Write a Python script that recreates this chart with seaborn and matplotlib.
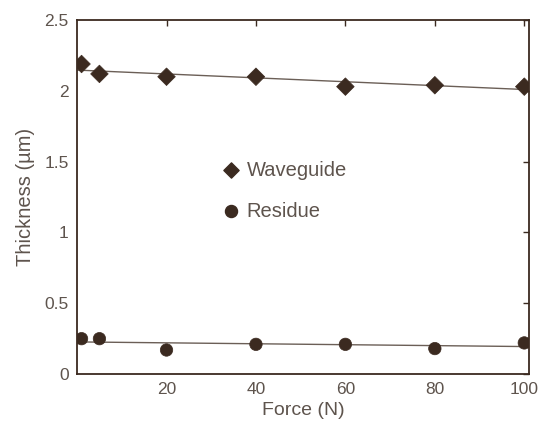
import numpy as np
import pandas as pd
import seaborn as sns
import matplotlib.pyplot as plt

# values
force = [1, 5, 20, 40, 60, 80, 100]
waveguide = [2.19, 2.12, 2.10, 2.10, 2.03, 2.04, 2.03]
residue = [0.25, 0.25, 0.17, 0.21, 0.21, 0.18, 0.22]
series_names = ['Waveguide', 'Residue']
x_ticks = [20, 40, 60, 80, 100]
y_ticks = [0, 0.5, 1, 1.5, 2, 2.5]

sns.set_style('white')
plt.rcParams['font.family'] = ['Liberation Sans', 'DejaVu Sans']
plt.rcParams['font.size'] = 12.5

dark = '#3b2a20'
txt = '#5e544d'
line_c = '#6b5f57'

df = pd.DataFrame({
    'Force': force * 2,
    'Thickness': waveguide + residue,
    'Layer': [series_names[0]] * len(force) + [series_names[1]] * len(force),
})

fig = plt.figure(figsize=(5.39, 4.28), dpi=100)
ax = fig.add_axes([0.143, 0.126, 0.838, 0.827])
ax.set_xlim(0, 101)
ax.set_ylim(0, 2.5)

for name in series_names:
    sub = df[df['Layer'] == name]
    sns.regplot(data=sub, x='Force', y='Thickness', ax=ax, scatter=False, ci=None,
                truncate=False, line_kws={'color': line_c, 'lw': 1.0})

sns.scatterplot(data=df, x='Force', y='Thickness', style='Layer', markers={'Waveguide': 'D', 'Residue': 'o'},
                color=dark, s=80, edgecolor=dark, linewidth=0.5, ax=ax, legend=False, zorder=3)

ax.set_xlim(0, 101)
ax.set_ylim(0, 2.5)
ax.set_xticks(x_ticks)
ax.set_yticks(y_ticks)
ax.set_yticklabels(['0', '0.5', '1', '1.5', '2', '2.5'])
ax.tick_params(direction='in', length=4, width=1, colors=dark, labelcolor=txt,
               top=True, right=True, labelsize=12.5, pad=6)
for sp in ax.spines.values():
    sp.set_color(dark)
    sp.set_linewidth(1.3)

ax.set_xlabel('Force (N)', color=txt, fontsize=14, labelpad=3)
ax.set_ylabel('Thickness (µm)', color=txt, fontsize=14.5, labelpad=7)

# in-plot legend
ax.scatter([0.34], [0.576], marker='D', s=60, color=dark, transform=ax.transAxes, clip_on=False)
ax.text(0.375, 0.576, series_names[0], transform=ax.transAxes, va='center', color=txt, fontsize=14.5)
ax.scatter([0.34], [0.46], marker='o', s=75, color=dark, transform=ax.transAxes, clip_on=False)
ax.text(0.375, 0.46, series_names[1], transform=ax.transAxes, va='center', color=txt, fontsize=14.5)

fig.savefig('out.png', dpi=100)
